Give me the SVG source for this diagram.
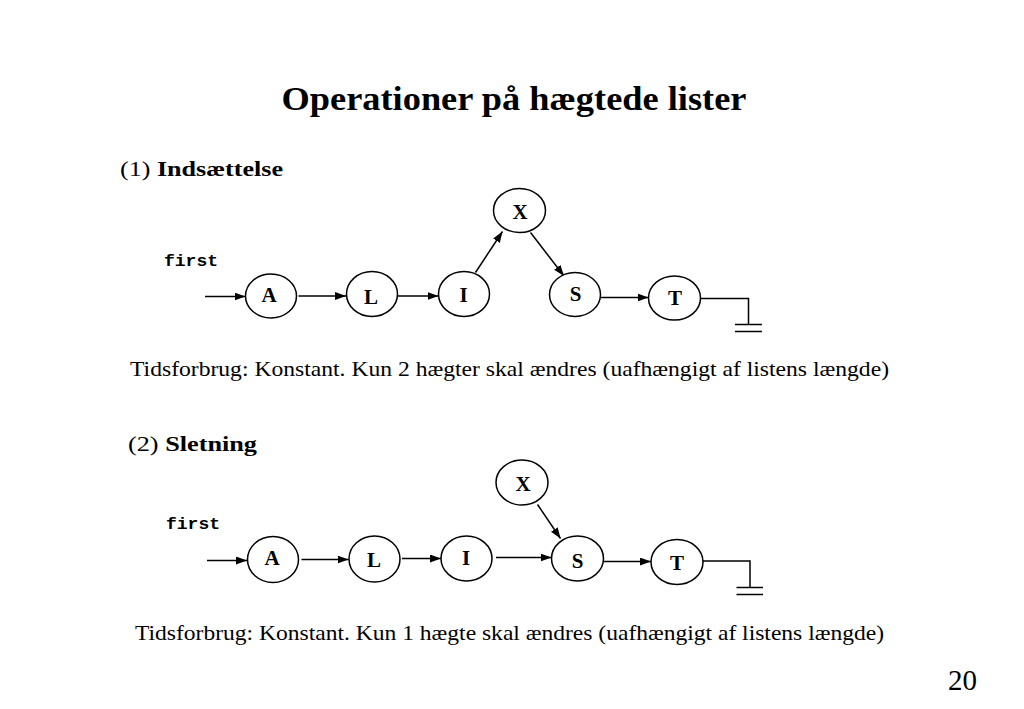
<svg xmlns="http://www.w3.org/2000/svg" width="1024" height="709" viewBox="0 0 1024 709">
<defs>
<marker id="ah" markerUnits="userSpaceOnUse" markerWidth="12" markerHeight="10" refX="11" refY="4" orient="auto">
<path d="M0,0 L11,4 L0,8 Z" fill="#000"/>
</marker>
<style>
.node ellipse{fill:#fff;stroke:#000;stroke-width:1.5}
.node text{font-family:'Liberation Serif','Times New Roman',Times,Tinos,serif;font-weight:bold;font-size:21px;text-anchor:middle;fill:#000}
.conn line,.conn polyline{stroke:#000;stroke-width:1.5;fill:none}
.arr{marker-end:url(#ah)}
.serif{font-family:'Liberation Serif','Times New Roman',Times,Tinos,serif;fill:#000}
.mono{font-family:'Liberation Mono','Courier New',Courier,Cousine,monospace;font-weight:bold;font-size:17px;fill:#000}
</style>
</defs>
<rect width="1024" height="709" fill="#fff"/>
<text class="serif" x="281.5" y="110" font-size="34" font-weight="bold" textLength="465" lengthAdjust="spacingAndGlyphs">Operationer på hægtede lister</text>
<text class="serif" x="120" y="176" font-size="22" textLength="163" lengthAdjust="spacingAndGlyphs">(1) <tspan font-weight="bold">Indsættelse</tspan></text>
<text class="serif" x="130" y="376" font-size="22" textLength="759" lengthAdjust="spacingAndGlyphs">Tidsforbrug: Konstant. Kun 2 hægter skal ændres (uafhængigt af listens længde)</text>
<text class="serif" x="128" y="451" font-size="22" textLength="129" lengthAdjust="spacingAndGlyphs">(2) <tspan font-weight="bold">Sletning</tspan></text>
<text class="serif" x="135" y="640" font-size="22" textLength="749" lengthAdjust="spacingAndGlyphs">Tidsforbrug: Konstant. Kun 1 hægte skal ændres (uafhængigt af listens længde)</text>
<text class="serif" x="948" y="690" font-size="30" textLength="29" lengthAdjust="spacingAndGlyphs">20</text>
<text class="mono" x="164" y="266" textLength="54" lengthAdjust="spacingAndGlyphs">first</text>
<text class="mono" x="166" y="529" textLength="54" lengthAdjust="spacingAndGlyphs">first</text>

<g class="conn" id="connectors">
<line class="arr" x1="205" y1="296.5" x2="245.5" y2="296.5"/>
<line class="arr" x1="298.5" y1="296" x2="346" y2="296"/>
<line class="arr" x1="398" y1="296" x2="438.5" y2="296"/>
<line class="arr" x1="475.5" y1="272.5" x2="502.5" y2="231.5"/>
<line class="arr" x1="530.5" y1="232.5" x2="564" y2="276"/>
<line class="arr" x1="601" y1="297.5" x2="648.5" y2="297.5"/>
<polyline points="700.5,298.5 748.5,298.5 748.5,324.5"/>
<line x1="735" y1="324.5" x2="762" y2="324.5"/>
<line x1="735" y1="331.5" x2="762" y2="331.5"/>

<line class="arr" x1="207" y1="560.5" x2="247" y2="560.5"/>
<line class="arr" x1="301.5" y1="559.5" x2="348.5" y2="559.5"/>
<line class="arr" x1="402" y1="558.5" x2="441" y2="558.5"/>
<line class="arr" x1="496" y1="557.5" x2="551.5" y2="557.5"/>
<line class="arr" x1="537.5" y1="504.5" x2="560.5" y2="538.5"/>
<line class="arr" x1="604" y1="561.5" x2="651" y2="561.5"/>
<polyline points="703,561 750,561 750,587.5"/>
<line x1="736.5" y1="587.5" x2="763" y2="587.5"/>
<line x1="736.5" y1="594.5" x2="763" y2="594.5"/>
</g>

<g class="node" id="n1A"><ellipse cx="271" cy="296" rx="25.5" ry="22"/><text x="269" y="302">A</text></g>
<g class="node" id="n1L"><ellipse cx="372" cy="294" rx="25.5" ry="22.5"/><text x="371" y="304">L</text></g>
<g class="node" id="n1I"><ellipse cx="464" cy="294" rx="25.5" ry="22.5"/><text x="463.5" y="302">I</text></g>
<g class="node" id="n1X"><ellipse cx="519.5" cy="210.5" rx="26" ry="22"/><text x="520" y="219">X</text></g>
<g class="node" id="n1S"><ellipse cx="575" cy="294.5" rx="25.5" ry="22"/><text x="575.5" y="301">S</text></g>
<g class="node" id="n1T"><ellipse cx="674.5" cy="298" rx="26" ry="22"/><text x="675" y="305">T</text></g>

<g class="node" id="n2A"><ellipse cx="273" cy="559.5" rx="25.5" ry="23"/><text x="272" y="565">A</text></g>
<g class="node" id="n2L"><ellipse cx="374.5" cy="559" rx="25.5" ry="23"/><text x="374" y="567">L</text></g>
<g class="node" id="n2I"><ellipse cx="466.5" cy="558.5" rx="25.5" ry="22.5"/><text x="466" y="565">I</text></g>
<g class="node" id="n2X"><ellipse cx="522" cy="482.5" rx="26" ry="22.5"/><text x="523" y="491">X</text></g>
<g class="node" id="n2S"><ellipse cx="577.5" cy="558.5" rx="26" ry="22.5"/><text x="577.5" y="568">S</text></g>
<g class="node" id="n2T"><ellipse cx="677" cy="562" rx="26" ry="22.5"/><text x="677" y="570">T</text></g>
</svg>
